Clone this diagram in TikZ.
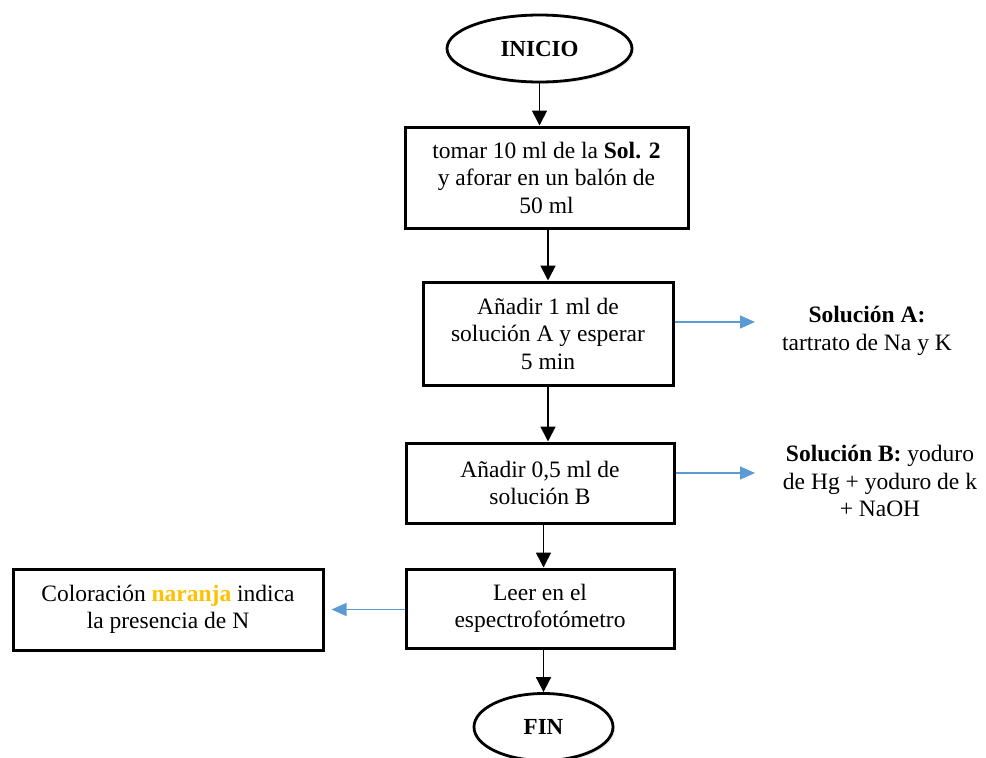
\documentclass[tikz,border=0pt]{standalone}
\usepackage{fontspec}
\setmainfont{Liberation Serif}
\usetikzlibrary{shapes.geometric,arrows.meta,calc,shadows}
\definecolor{flowblue}{HTML}{5B9BD5}
\definecolor{naranja}{HTML}{FFC000}
\begin{document}
\begin{tikzpicture}[x=1pt,y=-1pt,
  stepbox/.style={draw=black,line width=3pt,fill=white,rectangle,align=center,
    inner sep=0pt,font=\fontsize{23.5}{27.5}\selectfont,
    drop shadow={opacity=0.15,shadow xshift=2pt,shadow yshift=-2pt}},
  term/.style={draw=black,line width=2.8pt,fill=white,ellipse,inner sep=0pt,
    font=\fontsize{23}{27}\selectfont\bfseries,
    drop shadow={opacity=0.15,shadow xshift=2pt,shadow yshift=-2pt}},
  note/.style={align=center,font=\fontsize{23.5}{27.5}\selectfont},
  flow/.style={line width=1.7pt,-{Triangle[length=15pt,width=15pt]}},
  side/.style={draw=flowblue,line width=1.3pt,-{Triangle[length=15pt,width=13pt]}}]
  \useasboundingbox (0,0) rectangle (986,758);
  \clip (0,0) rectangle (986,758);

  % main column
  \node[term,minimum width=185pt,minimum height=67pt] (ini) at (539.5,48.5) {INICIO};
  \node[stepbox,minimum width=283pt,minimum height=101pt] (b1) at (546.5,177.5)
    {tomar 10 ml de la \textbf{Sol. 2}\\ y aforar en un balón de\\ 50 ml};
  \node[stepbox,minimum width=250pt,minimum height=103pt] (b2) at (548,333.5)
    {Añadir 1 ml de\\ solución A y esperar\\ 5 min};
  \node[stepbox,minimum width=268pt,minimum height=80pt] (b3) at (540,483)
    {Añadir 0,5 ml de\\ solución B};
  \node[stepbox,minimum width=268pt,minimum height=79pt] (b4) at (540,608.5)
    {Leer en el\\ espectrofotómetro};
  \node[term,minimum width=139pt,minimum height=67pt] (fin) at (543.5,727) {FIN};

  % side notes
  \node[stepbox,minimum width=310pt,minimum height=81pt] (res) at (168,609.5)
    {Coloración \textcolor{naranja}{\textbf{naranja}} indica\\ la presencia de N};
  \node[note] (solA) at (867,331) {\textbf{Solución A:}\\ tartrato de Na y K};
  \node[note] (solB) at (880,481) {\textbf{Solución B:} yoduro\\ de Hg + yoduro de k\\ + NaOH};

  % connectors
  \draw[flow] (ini.south) -- (ini.south |- b1.north);
  \draw[flow] (b2.north |- b1.south) -- (b2.north);
  \draw[flow] (b2.south) -- (b2.south |- b3.north);
  \draw[flow] (fin.north |- b3.south) -- (fin.north |- b4.north);
  \draw[flow] (fin.north |- b4.south) -- (fin.north);

  \coordinate (tipA) at (755,322);
  \coordinate (tipB) at (755,473);
  \draw[side] (b2.east |- tipA) -- (tipA);
  \draw[side] (b3.east |- tipB) -- (tipB);
  \draw[side,shorten >=7pt] (b4.west |- res.east) -- (res.east);
\end{tikzpicture}
\end{document}
